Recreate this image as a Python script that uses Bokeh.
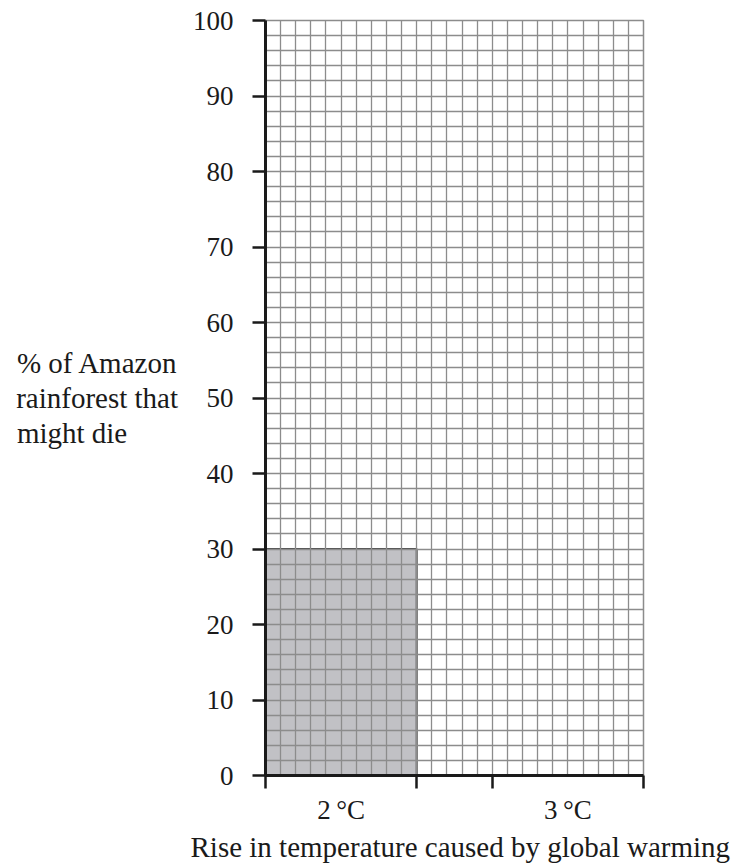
from bokeh.plotting import figure
from bokeh.models import Range1d, FixedTicker, Title, SingleIntervalTicker
from bokeh.embed import file_html
from bokeh.resources import INLINE

# Data
categories = ["2\u2009°C", "3\u2009°C"]
cat_left = [0, 15]          # category spans in grid-cell units
cat_right = [10, 25]
values = [30, None]         # 3 °C bar left blank in the reference
y_ticks = [0, 10, 20, 30, 40, 50, 60, 70, 80, 90, 100]
y_label_lines = ["% of Amazon", "rainforest that", "might die"]
x_label = "Rise in temperature caused by global warming"

FONT = "Liberation Serif"
INK = "#1a1a1a"
NBSP = "\u00a0"

p = figure(frame_width=378, frame_height=755,
           x_range=Range1d(0, 25), y_range=Range1d(0, 100),
           output_backend="svg", toolbar_location=None,
           min_border_left=265, min_border_right=92,
           min_border_top=20, min_border_bottom=4)
p.outline_line_color = "#8c8c8c"
p.outline_line_width = 1.5
p.background_fill_color = "white"
p.border_fill_color = "white"

# grid
p.xgrid.ticker = SingleIntervalTicker(interval=1)
p.ygrid.ticker = SingleIntervalTicker(interval=2)
for g in (p.xgrid, p.ygrid):
    g.grid_line_color = "#8c8c8c"
    g.grid_line_width = 1.3
    g.grid_line_alpha = 1.0

# bars
bl = [l for l, v in zip(cat_left, values) if v is not None]
br = [r for r, v in zip(cat_right, values) if v is not None]
bt = [v for v in values if v is not None]
r = p.quad(left=bl, right=br, bottom=0, top=bt,
           fill_color="#c1c1c5", line_color="#4a4a4a", line_width=2)
r.level = "image"

# y axis
ya = p.yaxis[0]
ya.ticker = FixedTicker(ticks=y_ticks)
ya.axis_line_width = 3
ya.axis_line_color = INK
ya.major_tick_line_width = 2.5
ya.major_tick_line_color = INK
ya.major_tick_out = 13
ya.major_tick_in = 0
ya.minor_tick_line_color = None
ya.major_label_text_font = FONT
ya.major_label_text_font_size = "27px"
ya.major_label_text_color = INK
ya.major_label_standoff = 19
# left-aligned block: pad the short last line
lines = list(y_label_lines)
lines[-1] = lines[-1] + NBSP * 7
ya.axis_label = "\n".join(lines)
ya.axis_label_orientation = "horizontal"
ya.axis_label_text_font = FONT
ya.axis_label_text_font_size = "29px"
ya.axis_label_text_font_style = "normal"
ya.axis_label_text_color = INK
ya.axis_label_text_align = "left"
ya.axis_label_text_line_height = 1.1
ya.axis_label_standoff = 12

# x axis
xa = p.xaxis[0]
centers = [(l + rr) / 2 for l, rr in zip(cat_left, cat_right)]
edges = sorted(set(cat_left + cat_right))
xa.ticker = FixedTicker(ticks=centers, minor_ticks=edges)
xa.major_label_overrides = {c: t for c, t in zip(centers, categories)}
xa.major_tick_line_color = None
xa.minor_tick_line_color = INK
xa.minor_tick_line_width = 2.5
xa.minor_tick_out = 13
xa.minor_tick_in = 0
xa.axis_line_width = 3
xa.axis_line_color = INK
xa.major_label_text_font = FONT
xa.major_label_text_font_size = "27px"
xa.major_label_text_color = INK
xa.major_label_standoff = 6

# x title
p.add_layout(Title(text=x_label, align="left", offset=-75,
                   text_font=FONT, text_font_size="29px",
                   text_font_style="normal", text_color=INK,
                   standoff=2), "below")

open("out.html", "w").write(file_html(p, INLINE))
